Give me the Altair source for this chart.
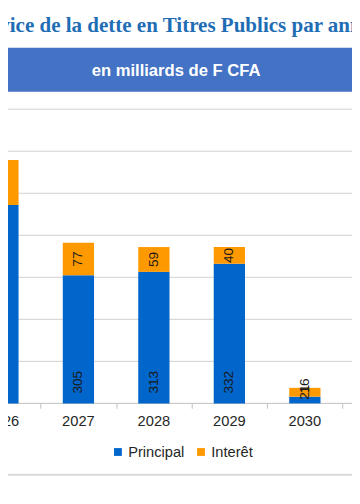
import altair as alt
import pandas as pd

# ---- data ----
annees = [2026, 2027, 2028, 2029, 2030]
principal = [472, 305, 313, 332, 16]
interet = [107, 77, 59, 40, 21]
series = ["Principal", "Interêt"]
couleurs = ["#0066CC", "#FF9900"]
titre = "Service de la dette en Titres Publics par année"
unite = "en milliards de F CFA"
y_ticks = [0, 100, 200, 300, 400, 500, 600, 700]
frontieres = [2026.5, 2027.5, 2028.5, 2029.5, 2030.5]

df = pd.DataFrame({"year": annees, "Principal": principal, "Interêt": interet})
deco = pd.DataFrame({"titre": [titre], "unite": [unite]})
grid_df = pd.DataFrame({"v": y_ticks})

W, H = 352, 301
x_dom = [2027 - 69 / 79.5, 2027 + (W - 69) / 79.5]

xaxis = alt.Axis(values=frontieres, labels=False, ticks=True, tickSize=5,
                 tickColor="#BFBFBF", domain=False,
                 grid=False, title=None)
yaxis = alt.Axis(values=y_ticks, labels=False, ticks=False, domain=False,
                 grid=False, title=None)
xscale = alt.Scale(domain=x_dom, nice=False, zero=False)
yscale = alt.Scale(domain=[0, 700], nice=False)

base = alt.Chart(df)

grid = alt.Chart(grid_df).mark_rule(strokeWidth=1).encode(
    x=alt.value(-8), x2=alt.value(W),
    y=alt.Y("v:Q", scale=yscale, axis=yaxis),
    color=alt.condition("datum.v == 0", alt.value("#BFBFBF"), alt.value("#D0D0D0")),
)

bars = base.transform_fold(series, as_=["serie", "valeur"]).transform_calculate(
    ordre="datum.serie == 'Principal' ? 0 : 1"
).mark_bar(size=32).encode(
    x=alt.X("year:Q", scale=xscale, axis=xaxis),
    y=alt.Y("valeur:Q", stack="zero", scale=yscale, axis=yaxis),
    color=alt.Color("serie:N", scale=alt.Scale(domain=series, range=couleurs),
                    legend=alt.Legend(orient="none", legendX=105, legendY=343,
                                      direction="horizontal", title=None,
                                      symbolType="square", symbolSize=64,
                                      symbolStrokeWidth=0, labelFontSize=15,
                                      labelFont="Liberation Sans", labelColor="#262626",
                                      labelOffset=3, columnPadding=9, padding=0)),
    order=alt.Order("ordre:Q"),
)

lab_p = base.transform_calculate(b="0").mark_text(
    angle=270, align="left", baseline="middle", dx=10, fontSize=14,
    font="Liberation Sans", color="#1a1a1a"
).encode(
    x=alt.X("year:Q", scale=xscale, axis=xaxis),
    y=alt.Y("b:Q", scale=yscale, axis=yaxis),
    text=alt.Text("Principal:Q"),
)

lab_i = base.transform_calculate(m="datum.Principal + datum['Interêt'] / 2").mark_text(
    angle=270, align="center", baseline="middle", fontSize=14,
    font="Liberation Sans", color="#1a1a1a"
).encode(
    x=alt.X("year:Q", scale=xscale, axis=xaxis),
    y=alt.Y("m:Q", scale=yscale, axis=yaxis),
    text=alt.Text("Interêt:Q"),
)

lab_x = base.transform_calculate(lab="toString(datum.year)").mark_text(
    align="center", baseline="middle", fontSize=15, font="Liberation Sans",
    color="#262626"
).encode(
    x=alt.X("year:Q", scale=xscale, axis=xaxis),
    y=alt.value(319),
    text="lab:N",
)

d = alt.Chart(deco)
banner = d.mark_rect(color="#4472C4").encode(
    x=alt.value(-8), x2=alt.value(W), y=alt.value(-63), y2=alt.value(-18))
banner_txt = d.mark_text(align="center", baseline="middle", fontSize=17,
                         fontWeight="bold", font="Liberation Sans", color="white").encode(
    x=alt.value(172), y=alt.value(-39), text="unite:N")
title_txt = d.mark_text(align="left", baseline="alphabetic", fontSize=21.5,
                        fontWeight="bold", font="Liberation Serif", color="#1F6EB5").encode(
    x=alt.value(-40), y=alt.value(-79), text="titre:N")
bottom_line = d.mark_rule(color="#D9D9D9", strokeWidth=2).encode(
    x=alt.value(-8), x2=alt.value(W), y=alt.value(374))

chart = alt.layer(grid, bars, lab_p, lab_i, lab_x, banner, banner_txt, title_txt, bottom_line).properties(
    width=W, height=H,
    autosize=alt.AutoSizeParams(type="none"),
    padding={"left": 0, "top": 98, "right": 0, "bottom": 81},
).configure_view(stroke=None)

chart.save("out.html", embed_options={"renderer": "svg", "actions": False})
